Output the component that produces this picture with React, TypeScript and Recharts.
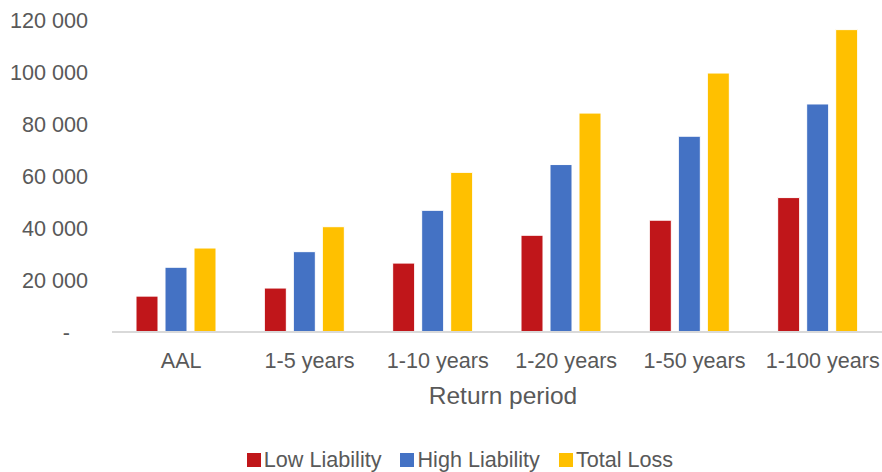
import React from "react";
import {
  BarChart,
  Bar,
  XAxis,
  YAxis,
  Legend,
} from "recharts";

const categories = ["AAL", "1-5 years", "1-10 years", "1-20 years", "1-50 years", "1-100 years"];
const lowLiability = [13800, 16900, 26500, 37200, 43000, 51700];
const highLiability = [24900, 30900, 46800, 64400, 75300, 87700];
const totalLoss = [32300, 40500, 61400, 84200, 99600, 116300];
const yTicks = [0, 20000, 40000, 60000, 80000, 100000, 120000];

const series = [
  { key: "low", name: "Low Liability", color: "#C0161A" },
  { key: "high", name: "High Liability", color: "#4472C4" },
  { key: "total", name: "Total Loss", color: "#FFC000" },
];

const data = categories.map((name, i) => ({
  name,
  low: lowLiability[i],
  high: highLiability[i],
  total: totalLoss[i],
}));

const FONT = "'Liberation Sans', Arial, sans-serif";
const TEXT = "#595959";
const FS = 21.6;

const fmtY = (v: number) =>
  v === 0 ? "-\u00a0\u00a0\u00a0" : String(v).replace(/\B(?=(\d{3})+(?!\d))/g, " ");

const LegendRow = () => (
  <div
    style={{
      height: 24,
      display: "flex",
      justifyContent: "center",
      alignItems: "center",
      paddingLeft: 38,
      fontFamily: FONT,
      fontSize: FS,
      color: TEXT,
    }}
  >
    {series.map((s, i) => (
      <span
        key={s.key}
        style={{ display: "flex", alignItems: "center", marginRight: i < series.length - 1 ? 19 : 0 }}
      >
        <span style={{ width: 14, height: 14, background: s.color, marginRight: 3 }} />
        {s.name}
      </span>
    ))}
  </div>
);

export default function App() {
  return (
    <div style={{ position: "absolute", left: 0, top: 0 }}>
      <BarChart
        width={882}
        height={472}
        data={data}
        margin={{ top: 20, right: 0, bottom: 0, left: 0 }}
        barSize={22}
        barGap={7}
      >
        <XAxis
          dataKey="name"
          height={116}
          tickLine={false}
          tickSize={0}
          tickMargin={21}
          axisLine={{ stroke: "#d9d9d9", strokeWidth: 2 }}
          tick={{ fill: TEXT, fontSize: FS, fontFamily: FONT, dx: 5 }}
          label={{
            value: "Return period",
            position: "insideTop",
            offset: 55,
            dx: 6,
            fill: TEXT,
            fontSize: 24.5,
            fontFamily: FONT,
          }}
        />
        <YAxis
          width={112}
          domain={[0, 120000]}
          ticks={yTicks}
          axisLine={false}
          tickLine={false}
          tickSize={0}
          tickMargin={24}
          tickFormatter={fmtY}
          tick={{ fill: TEXT, fontSize: FS, fontFamily: FONT }}
        />
        <Legend
          verticalAlign="bottom"
          content={() => <LegendRow />}
          wrapperStyle={{ left: 0, width: 882 }}
        />
        {series.map((s) => (
          <Bar
            key={s.key}
            dataKey={s.key}
            name={s.name}
            fill={s.color}
            stroke="#ffffff"
            strokeWidth={1}
            isAnimationActive={false}
          />
        ))}
      </BarChart>
    </div>
  );
}
